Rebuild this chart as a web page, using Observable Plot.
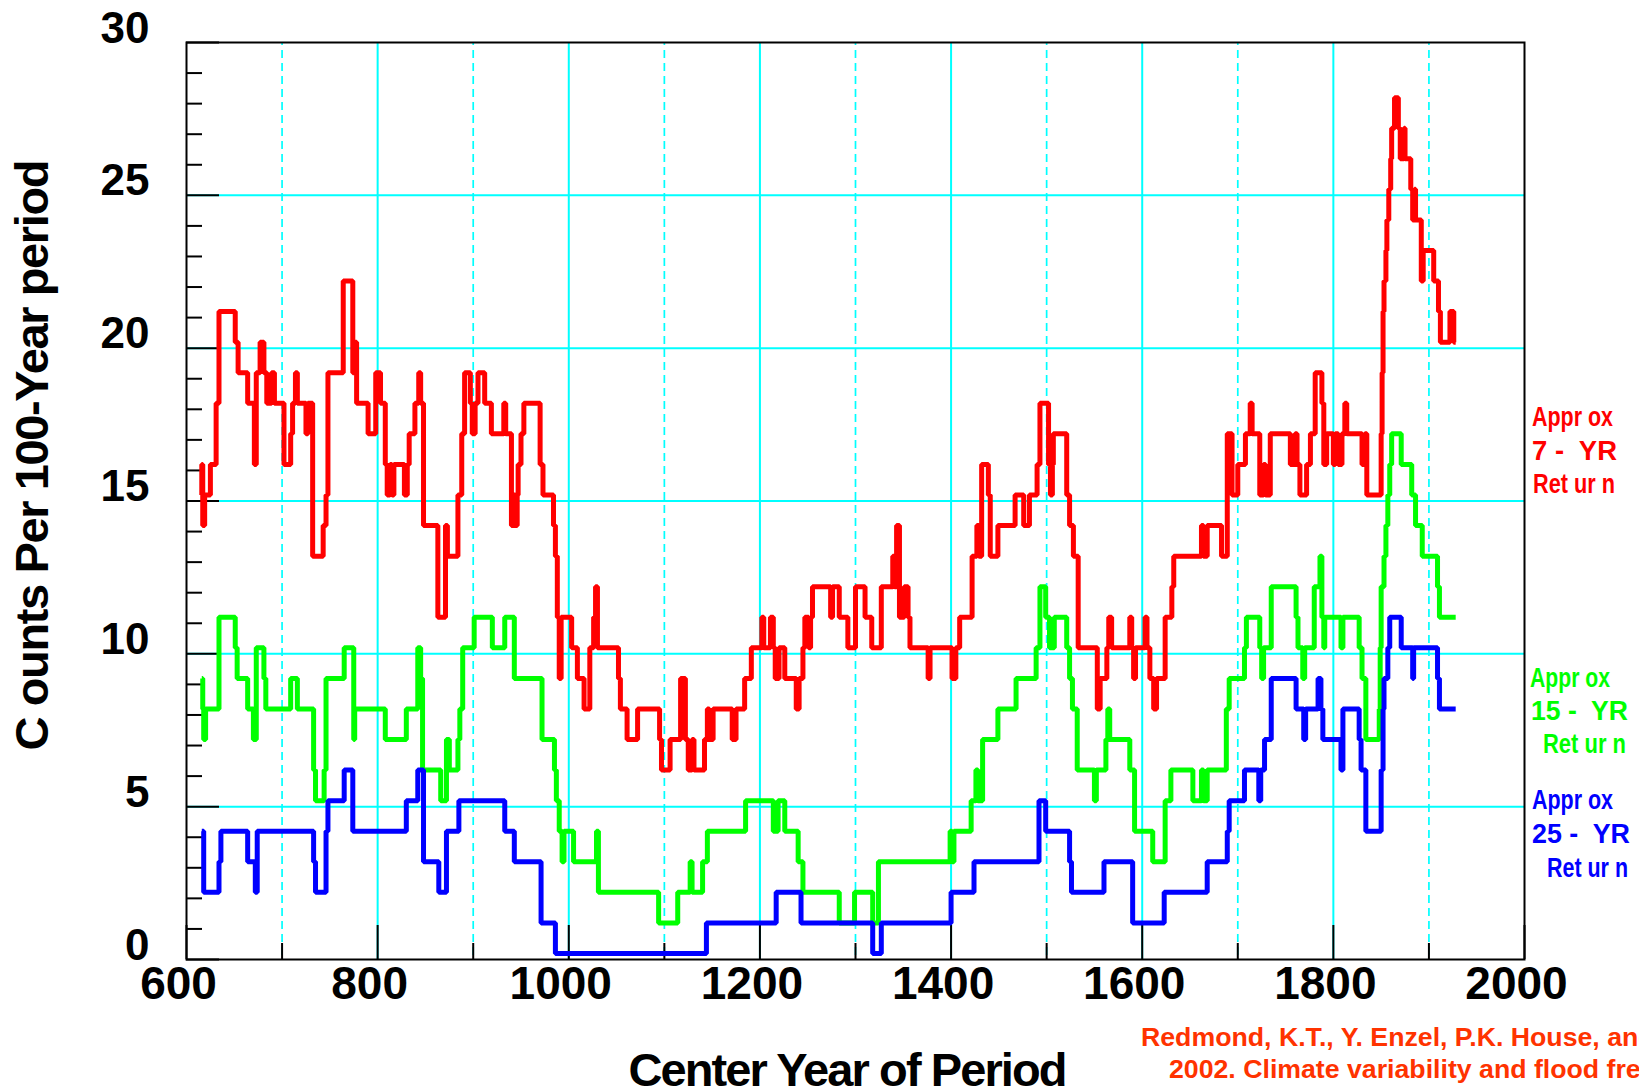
<!DOCTYPE html>
<html>
<head>
<meta charset="utf-8">
<script src="https://cdn.jsdelivr.net/npm/d3@7"></script>
<script src="https://cdn.jsdelivr.net/npm/@observablehq/plot@0.6"></script>
<style>
  html, body { margin: 0; padding: 0; background: #ffffff; overflow: hidden; }
  #chart { position: relative; width: 1639px; height: 1091px; overflow: hidden; }
</style>
</head>
<body>
<div id="chart"></div>
<script>
// ---------- data (step change points: year where the count takes the new value) ----------
const endYear = 1928;

const redYears = [615,616,617,619,625,631,634,651,654,664,671,673,677,681,684,689,692,702,709,711,714,716,725,727,732,743,746,748,764,774,776,778,790,798,803,808,810,813,815,817,828,831,833,839,843,845,848,863,871,873,884,888,891,897,899,902,905,912,919,932,934,940,942,944,946,947,950,953,970,973,984,986,988,990,992,1003,1009,1016,1022,1026,1028,1030,1052,1054,1061,1072,1095,1097,1106,1117,1122,1125,1129,1131,1142,1145,1147,1151,1171,1175,1184,1191,1202,1204,1211,1214,1216,1220,1226,1238,1241,1245,1247,1251,1253,1255,1274,1276,1283,1292,1300,1310,1317,1327,1339,1341,1343,1346,1351,1355,1357,1376,1378,1401,1405,1409,1422,1427,1429,1432,1439,1441,1449,1467,1476,1482,1490,1493,1502,1504,1506,1507,1521,1524,1528,1533,1553,1556,1563,1565,1568,1587,1589,1591,1593,1603,1605,1608,1612,1615,1624,1631,1633,1662,1664,1668,1683,1689,1694,1700,1708,1713,1715,1723,1727,1729,1734,1755,1760,1762,1765,1772,1776,1781,1788,1790,1793,1800,1802,1805,1809,1812,1814,1830,1833,1835,1850,1851,1852,1853,1855,1856,1858,1860,1861,1864,1868,1870,1874,1875,1881,1883,1885,1886,1892,1894,1905,1910,1912,1922,1926];
const redCounts = [15,16,14,15,16,18,21,20,19,18,16,19,20,19,18,19,18,16,17,18,19,18,17,18,13,14,15,19,22,19,20,18,17,19,18,16,15,16,15,16,15,16,17,18,19,18,14,11,14,13,15,17,19,18,17,18,19,18,17,18,17,14,15,14,15,16,17,18,16,15,14,13,11,9,11,10,9,8,10,11,12,10,9,8,7,8,7,6,7,9,7,6,7,6,7,8,7,8,7,8,9,10,11,10,11,10,9,10,9,8,9,10,11,10,11,12,11,12,11,10,12,11,10,12,13,12,14,11,12,11,10,9,10,9,10,11,13,14,13,16,15,13,14,15,14,15,16,18,16,15,16,17,15,14,13,10,8,9,10,11,10,11,10,9,10,11,10,9,8,9,11,12,13,14,13,14,13,17,15,16,17,18,17,15,16,15,17,16,17,16,15,16,17,19,18,16,17,16,17,16,17,18,17,16,17,15,17,19,21,22,23,24,25,26,27,28,27,26,27,26,25,24,25,24,22,23,22,21,20,21,20];

const greenYears = [616,617,618,620,634,651,653,664,670,673,681,683,709,716,733,735,744,746,765,775,776,808,830,842,845,847,866,872,875,884,886,889,901,920,933,943,972,985,987,990,993,995,1005,1029,1031,1094,1114,1127,1129,1140,1145,1185,1214,1219,1226,1240,1245,1283,1299,1318,1324,1399,1401,1403,1421,1426,1428,1433,1449,1468,1489,1493,1499,1503,1508,1521,1524,1527,1532,1550,1552,1562,1564,1566,1587,1592,1611,1624,1630,1653,1662,1664,1668,1688,1691,1707,1709,1723,1725,1727,1735,1761,1763,1768,1770,1780,1786,1788,1790,1791,1808,1810,1827,1830,1834,1848,1849,1850,1853,1855,1857,1859,1861,1871,1882,1886,1893,1909,1911];
const greenCounts = [9,8,7,8,11,10,9,8,7,10,9,8,9,8,6,5,6,9,10,7,8,7,8,10,9,6,5,7,6,7,8,10,11,10,11,9,7,6,5,4,3,4,3,4,2,1,2,3,2,3,4,5,4,5,4,3,2,1,2,1,3,4,3,4,5,6,5,7,8,9,10,12,11,10,11,10,9,8,6,5,6,7,8,7,6,4,3,5,6,5,6,5,6,8,9,10,11,10,9,10,12,11,10,9,10,12,13,11,10,11,10,11,10,9,7,8,10,12,13,14,15,16,17,16,15,14,13,12,11];

const blueYears = [616,618,634,636,664,672,674,733,735,746,748,765,774,830,842,848,864,872,885,933,943,971,986,1144,1217,1243,1318,1327,1400,1424,1492,1499,1524,1526,1560,1590,1623,1668,1689,1691,1707,1722,1724,1728,1735,1761,1769,1771,1784,1787,1789,1808,1810,1827,1829,1834,1850,1852,1853,1857,1859,1871,1883,1884,1909,1911];
const blueCounts = [4,2,3,4,3,2,4,3,2,4,5,6,4,5,6,3,2,4,5,4,3,1,0,1,2,1,0,1,2,3,5,4,3,2,3,1,2,3,4,5,6,5,6,7,9,8,7,8,9,8,7,6,8,7,6,4,6,8,9,10,11,10,9,10,9,8];

const xTickLabels = [600, 800, 1000, 1200, 1400, 1600, 1800, 2000];
const xMinorYears = [700, 900, 1100, 1300, 1500, 1700, 1900];
const yTickLabels = [0, 5, 10, 15, 20, 25, 30];
const yMinorValues = [1,2,3,4,6,7,8,9,11,12,13,14,16,17,18,19,21,22,23,24,26,27,28,29];

const seriesLabels = [
  {lines: ["Appr ox", "7 -  YR", "Ret ur n"], color: "#ff0000"},
  {lines: ["Appr ox", "15 -  YR", "Ret ur n"], color: "#00ff00"},
  {lines: ["Appr ox", "25 -  YR", "Ret ur n"], color: "#0000ff"}
];
const citationLines = [
  "Redmond, K.T., Y. Enzel, P.K. House, and F. Biondi,",
  "2002. Climate variability and flood frequency at decadal to"
];
const xTitle = "Center Year of Period";
const yTitle = "C ounts Per 100-Year period";

// ---------- build tables ----------
function toRows(years, counts) {
  const rows = years.map((y, i) => ({year: y, count: counts[i]}));
  rows.push({year: endYear, count: counts[counts.length - 1]});
  return rows;
}
const redRows = toRows(redYears, redCounts);
const greenRows = toRows(greenYears, greenCounts);
const blueRows = toRows(blueYears, blueCounts);

// ---------- layout ----------
const W = 1639, H = 1091;
const mL = 186, mR = W - 1524, mT = 42, mB = H - 959;
const fw = W - mL - mR, fh = H - mT - mB;
const font = "'Liberation Sans', Arial, Helvetica, sans-serif";
const cyan = "#00ffff";

const lineOpts = {x: "year", y: "count", curve: "step-after", strokeWidth: 5, dy: -6, strokeLinejoin: "miter", strokeLinecap: "butt"};

const plot = Plot.plot({
  width: W,
  height: H,
  marginLeft: mL, marginRight: mR, marginTop: mT, marginBottom: mB,
  style: {fontFamily: font, background: "#ffffff", overflow: "hidden", color: "black"},
  x: {domain: [600, 2000]},
  y: {domain: [0, 30]},
  marks: [
    Plot.ruleY(yTickLabels.filter(v => v > 0 && v < 30), {y: d => d, stroke: cyan, strokeWidth: 2}),
    Plot.ruleX(xTickLabels.filter(v => v > 600 && v < 2000), {x: d => d, stroke: cyan, strokeWidth: 2}),
    Plot.ruleX(xMinorYears, {x: d => d, stroke: cyan, strokeWidth: 1.7, strokeDasharray: "8,5", strokeDashoffset: -8}),
    Plot.tickY(yMinorValues, {y: d => d, stroke: "black", strokeWidth: 2, insetRight: fw - 16}),
    Plot.tickY(yTickLabels, {y: d => d, stroke: "black", strokeWidth: 2, insetRight: fw - 33}),
    Plot.tickX(xMinorYears, {x: d => d, stroke: "black", strokeWidth: 2, insetTop: fh - 16}),
    Plot.tickX(xTickLabels, {x: d => d, stroke: "black", strokeWidth: 2, insetTop: fh - 34}),
    Plot.line(redRows, {...lineOpts, stroke: "#ff0000"}),
    Plot.line(greenRows, {...lineOpts, stroke: "#00ff00"}),
    Plot.line(blueRows, {...lineOpts, stroke: "#0000ff"}),
    Plot.frame({stroke: "black", strokeWidth: 2}),
    Plot.axisX(xTickLabels, {anchor: "bottom", tickSize: 0, tickPadding: 7, fontSize: 46, fontWeight: "bold", dx: -8, tickFormat: d => String(d), label: null, fill: "black"}),
    Plot.axisY(yTickLabels, {anchor: "left", tickSize: 0, tickPadding: 37, fontSize: 44, fontWeight: "bold", dy: -14, tickFormat: d => String(d), label: null, fill: "black"})
  ]
});

document.getElementById("chart").appendChild(plot);

// ---------- titles, series labels, citation ----------
const svg = d3.select(plot);
const g = svg.append("g").attr("font-family", font).attr("text-anchor", "start");

g.append("text")
  .attr("x", 848).attr("y", 1086)
  .attr("text-anchor", "middle")
  .attr("font-size", 47).attr("font-weight", "bold").attr("fill", "black")
  .attr("textLength", 439).attr("lengthAdjust", "spacing")
  .text(xTitle);

g.append("text")
  .attr("transform", "translate(48,455) rotate(-90)")
  .attr("text-anchor", "middle")
  .attr("font-size", 47).attr("font-weight", "bold").attr("fill", "black")
  .attr("textLength", 591).attr("lengthAdjust", "spacing")
  .text(yTitle);

// right-hand series labels
const labelPlacement = [
  {x: [1532, 1532, 1533], y: [426, 460, 493], len: [81, 85, 82]},
  {x: [1530, 1531, 1543], y: [687, 720, 753], len: [80, 97, 83]},
  {x: [1532, 1532, 1547], y: [809, 843, 877], len: [81, 98, 81]}
];
seriesLabels.forEach((s, i) => {
  s.lines.forEach((t, j) => {
    g.append("text")
      .attr("x", labelPlacement[i].x[j]).attr("y", labelPlacement[i].y[j])
      .attr("text-anchor", "start")
      .attr("font-size", 27).attr("font-weight", "bold").attr("fill", s.color)
      .attr("textLength", labelPlacement[i].len[j]).attr("lengthAdjust", "spacingAndGlyphs")
      .style("white-space", "pre")
      .text(t);
  });
});

// citation (runs off the right edge as in the source)
const citeX = [1141, 1169], citeY = [1046, 1078];
citationLines.forEach((t, i) => {
  g.append("text")
    .attr("x", citeX[i]).attr("y", citeY[i])
    .attr("text-anchor", "start")
    .attr("font-size", 26.7).attr("font-weight", "bold").attr("fill", "#ff3300")
    .text(t);
});
</script>
</body>
</html>
